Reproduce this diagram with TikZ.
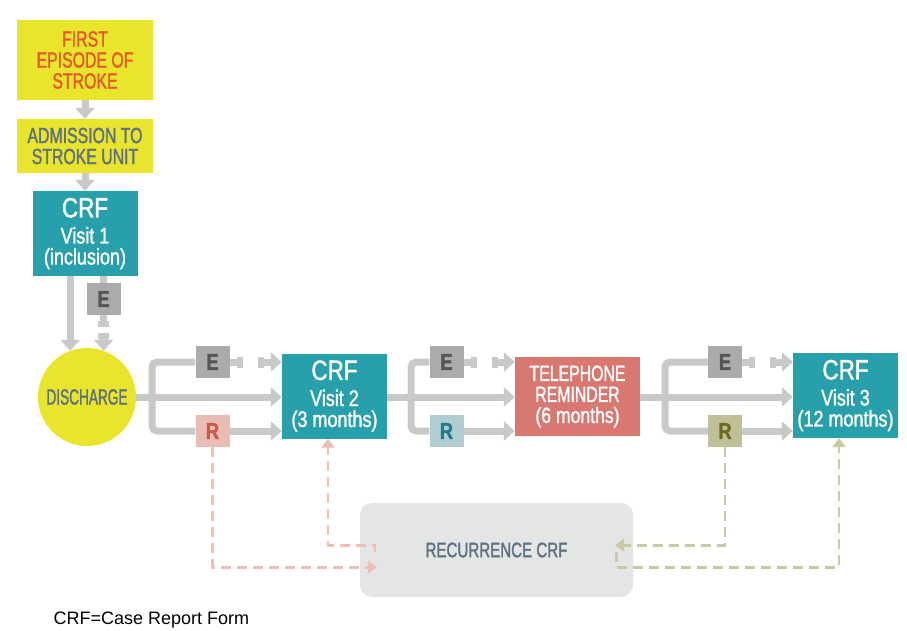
\documentclass[tikz,border=0pt]{standalone}
\usepackage{fontspec}
\setmainfont{Liberation Sans}
\newfontfamily\narrowfont[FakeStretch=0.8,FakeBold=1.4]{Liberation Sans}
\newfontfamily\capsfont[FakeStretch=0.72,FakeBold=1.4]{Liberation Sans}
\newfontfamily\squeezefont[FakeStretch=0.62,FakeBold=1.4]{Liberation Sans}
\usetikzlibrary{arrows.meta}

\definecolor{strokeyellow}{HTML}{E8E52C}
\definecolor{firstorange}{HTML}{E5582A}
\definecolor{slate}{HTML}{5F7080}
\definecolor{crfteal}{HTML}{27A0AB}
\definecolor{conngray}{HTML}{C8C9C9}
\definecolor{egray}{HTML}{ABABAB}
\definecolor{edark}{HTML}{555555}
\definecolor{rpink}{HTML}{E9BDB4}
\definecolor{rpinkdark}{HTML}{C95A4C}
\definecolor{rblue}{HTML}{B0CDD2}
\definecolor{rbluedark}{HTML}{1F7E88}
\definecolor{rolive}{HTML}{BFC096}
\definecolor{rolivedark}{HTML}{6B6C20}
\definecolor{telred}{HTML}{D97870}
\definecolor{recgray}{HTML}{E4E6E6}
\definecolor{pinkdash}{HTML}{EDBFB5}
\definecolor{olivedash}{HTML}{CACAA2}

\begin{document}
\begin{tikzpicture}[x=1pt, y=-1pt,
    >={Triangle[length=11pt,width=19pt]},
    box/.style={rectangle, inner sep=0pt, align=center, font=\capsfont\fontsize{22}{21}\selectfont},
    crf/.style={box, fill=crfteal, text=white, minimum width=105pt, minimum height=85pt, font=\narrowfont\fontsize{22.5}{21}\selectfont},
    tag/.style={box, minimum width=34pt, minimum height=32pt, font=\narrowfont\bfseries\fontsize{23}{23}\selectfont},
    conn/.style={color=conngray, line width=7pt},
    cut/.style={conn, -{Rectangle[length=6pt,width=11pt]}},
    resume/.style={conn, {Rectangle[length=6pt,width=11pt]}->},
    recur/.style={line width=2.6pt, dash pattern=on 10pt off 6pt, -{Triangle[length=9pt,width=13pt]}}]
  \useasboundingbox (0,0) rectangle (907,630);

  % admission
  \node[box, fill=strokeyellow, text=firstorange, minimum width=136pt, minimum height=80pt] (first) at (85,60) {FIRST\\EPISODE OF\\STROKE};
  \node[box, fill=strokeyellow, text=slate, minimum width=136pt, minimum height=54pt] (admit) at (85,146) {ADMISSION TO\\STROKE UNIT};
  \node[crf] (crfA) at (85,233.5) {{\fontsize{28}{28}\selectfont CRF}\\[5pt]Visit 1\\(inclusion)};
  \node[tag, fill=egray, text=edark] (eA) at (103.5,299) {E};
  \node[circle, fill=strokeyellow, minimum size=98pt, inner sep=0pt, text=slate, font=\squeezefont\fontsize{22}{22}\selectfont] (dis) at (87,397) {DISCHARGE};

  % follow-up
  \node[tag, fill=egray, text=edark] (eB) at (212.5,362) {E};
  \node[tag, fill=rpink, text=rpinkdark] (rB) at (212.5,431) {R};
  \node[crf] (crfB) at (334.5,396) {{\fontsize{28}{28}\selectfont CRF}\\[5pt]Visit 2\\(3 months)};
  \node[tag, fill=egray, text=edark] (eC) at (446.5,362) {E};
  \node[tag, fill=rblue, text=rbluedark] (rC) at (446.5,431) {R};
  \node[box, fill=telred, text=white, minimum width=125pt, minimum height=79pt] (tel) at (577.5,396.5) {TELEPHONE\\REMINDER\\{\narrowfont(6 months)}};
  \node[tag, fill=egray, text=edark] (eD) at (725,362) {E};
  \node[tag, fill=rolive, text=rolivedark] (rD) at (725,431) {R};
  \node[crf] (crfC) at (845.5,395.5) {{\fontsize{28}{28}\selectfont CRF}\\[5pt]Visit 3\\(12 months)};

  \node[box, fill=recgray, text=slate, rounded corners=12pt, minimum width=273pt, minimum height=94pt, font=\capsfont\fontsize{21}{21}\selectfont] (rec) at (496.5,550) {RECURRENCE CRF};
  \node[anchor=west, font=\fontsize{18}{18}\selectfont] (note) at (50,620) {CRF=Case Report Form};

  % vertical part
  \draw[conn,->] (first) -- (admit);
  \draw[conn,->] (admit) -- (crfA);
  \draw[conn,->] (crfA.south -| dis.110) -- (dis.110);
  \draw[conn] (crfA.south -| eA.north) -- (eA.north);
  \draw[cut] (eA.south) -- ++(0,12);
  \path (eA.south) ++(0,18) coordinate (eAgo);
  \draw[resume] (eAgo) -- (dis.70);

  % after discharge
  \coordinate (jB) at (152,397);
  \draw[conn] (dis.east) -- (jB);
  \draw[conn,->] (jB) -- (jB -| crfB.west);
  \draw[conn, rounded corners=5pt] (eB.west) -| (jB) |- (rB.west);
  \draw[cut] (eB.east) -- ++(13,0);
  \path (eB.east) ++(28,0) coordinate (eBgo);
  \draw[resume] (eBgo) -- (eBgo -| crfB.west);
  \draw[conn,->] (rB.east) -- (rB.east -| crfB.west);

  % after visit 2
  \coordinate (jC) at (411,397);
  \draw[conn,->] (crfB.east |- jC) -- (jC -| tel.west);
  \draw[conn, rounded corners=5pt] (eC.west) -| (jC) |- (rC.west);
  \draw[cut] (eC.east) -- ++(13,0);
  \path (eC.east) ++(28,0) coordinate (eCgo);
  \draw[resume] (eCgo) -- (eCgo -| tel.west);
  \draw[conn,->] (rC.east) -- (rC.east -| tel.west);

  % after telephone
  \coordinate (jD) at (665,397);
  \draw[conn,->] (tel.east |- jD) -- (jD -| crfC.west);
  \draw[conn, rounded corners=5pt] (eD.west) -| (jD) |- (rD.west);
  \draw[cut] (eD.east) -- ++(13,0);
  \path (eD.east) ++(28,0) coordinate (eDgo);
  \draw[resume] (eDgo) -- (eDgo -| crfC.west);
  \draw[conn,->] (rD.east) -- (rD.east -| crfC.west);

  % recurrence
  \path (rec.south west) ++(17,-30) coordinate (recA);
  \path (rec.south west) ++(15,-45) coordinate (recB);
  \path (rec.south east) ++(-18,-52) coordinate (recC);
  \path (rec.south east) ++(-17,-45) coordinate (recD);
  \path (crfB.south) ++(-6.5,0) coordinate (crfBin);
  \path (crfC.south) ++(-6.5,0) coordinate (crfCin);
  \path (recD) ++(0,15) coordinate (oliveturn);
  \draw[recur, color=pinkdash] (rB.south) |- (recA);
  \draw[recur, color=pinkdash] (recB) -- ++(0,-7) -| (crfBin);
  \draw[recur, color=olivedash] (rD.south) |- (recC);
  \draw[recur, color=olivedash] (recD) -- (oliveturn) -| (crfCin);
\end{tikzpicture}
\end{document}
